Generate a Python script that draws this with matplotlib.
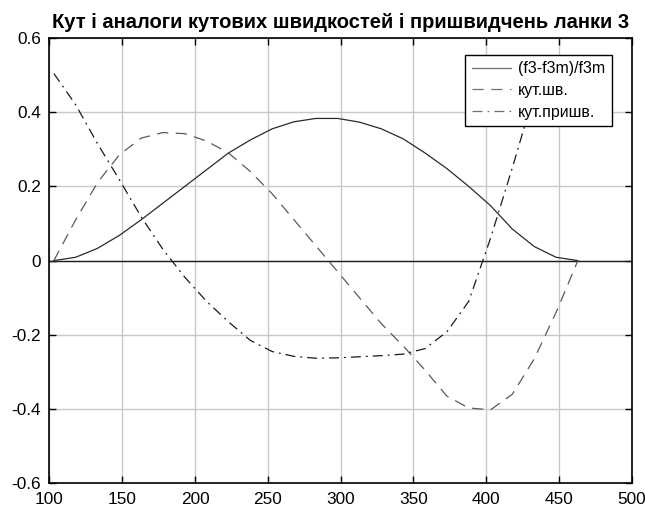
import matplotlib
matplotlib.use("Agg")
import matplotlib.pyplot as plt

plt.rcParams['font.family'] = ['Liberation Sans', 'DejaVu Sans']

angle = [103, 118, 133, 148, 163, 178, 193, 208, 223, 238, 253, 268, 283,
         298, 313, 328, 343, 358, 373, 388, 403, 418, 433, 448, 463]
f3_rel = [0.0, 0.009, 0.033, 0.068, 0.110, 0.155, 0.200, 0.245, 0.290, 0.325,
          0.355, 0.374, 0.383, 0.383, 0.373, 0.355, 0.328, 0.290, 0.248, 0.200,
          0.148, 0.085, 0.038, 0.009, 0.0]
omega = [0.0, 0.110, 0.210, 0.285, 0.330, 0.345, 0.342, 0.322, 0.290, 0.240,
         0.180, 0.110, 0.040, -0.030, -0.100, -0.170, -0.230, -0.295, -0.365,
         -0.397, -0.402, -0.360, -0.265, -0.140, 0.0]
eps = [0.504, 0.420, 0.315, 0.218, 0.118, 0.030, -0.045, -0.110, -0.165, -0.215,
       -0.245, -0.258, -0.263, -0.262, -0.259, -0.256, -0.252, -0.237, -0.192,
       -0.110, 0.060, 0.250, 0.450, 0.520, 0.504]

title = 'Кут і аналоги кутових швидкостей і пришвидчень ланки 3'
labels = ['(f3-f3m)/f3m', 'кут.шв.', 'кут.пришв.']
xticks = [100, 150, 200, 250, 300, 350, 400, 450, 500]
yticks = [-0.6, -0.4, -0.2, 0, 0.2, 0.4, 0.6]
ytick_labels = ['-0.6', '-0.4', '-0.2', '0', '0.2', '0.4', '0.6']

fig = plt.figure(figsize=(6.45, 5.12), dpi=100)
ax = fig.add_axes([0.0767, 0.056, 0.9794 - 0.0767, 0.926 - 0.056])

ax.plot(angle, f3_rel, color='#2a2a2a', lw=0.9, ls='-', label=labels[0])
ax.plot(angle, omega, color='#5a5a5a', lw=0.9, ls=(0, (9, 6)), label=labels[1])
ax.plot(angle, eps, color='#1a1a1a', lw=0.9, ls=(0, (8, 4, 1.5, 4)), label=labels[2])
ax.axhline(0, color='#202020', lw=1.0, zorder=1.5)

ax.set_xlim(100, 500)
ax.set_ylim(-0.6, 0.6)
ax.set_xticks(xticks)
ax.set_yticks(yticks)
ax.set_xticklabels([str(t) for t in xticks])
ax.set_yticklabels(ytick_labels)
ax.grid(True, color='#c8c8c8', lw=1.0)
ax.set_axisbelow(True)
ax.tick_params(direction='in', length=5, width=1, top=True, right=True,
               labelsize=12.4, colors='black')
ax.tick_params(axis='x', pad=6)
ax.tick_params(axis='y', pad=6)
for s in ax.spines.values():
    s.set_linewidth(1.2)
    s.set_color('black')

ax.set_title(title, fontsize=14.5, fontweight='bold', pad=7)

leg = ax.legend(loc='upper right', bbox_to_anchor=(0.9657, 0.9618), fontsize=11.4,
                frameon=True, fancybox=False, framealpha=1, edgecolor='black',
                handlelength=2.5, handletextpad=0.45, borderpad=0.4,
                labelspacing=0.42, borderaxespad=0)
leg.get_frame().set_linewidth(1.0)
for line in leg.get_lines():
    line.set_color('#707070')

fig.savefig('out.png', dpi=100)
